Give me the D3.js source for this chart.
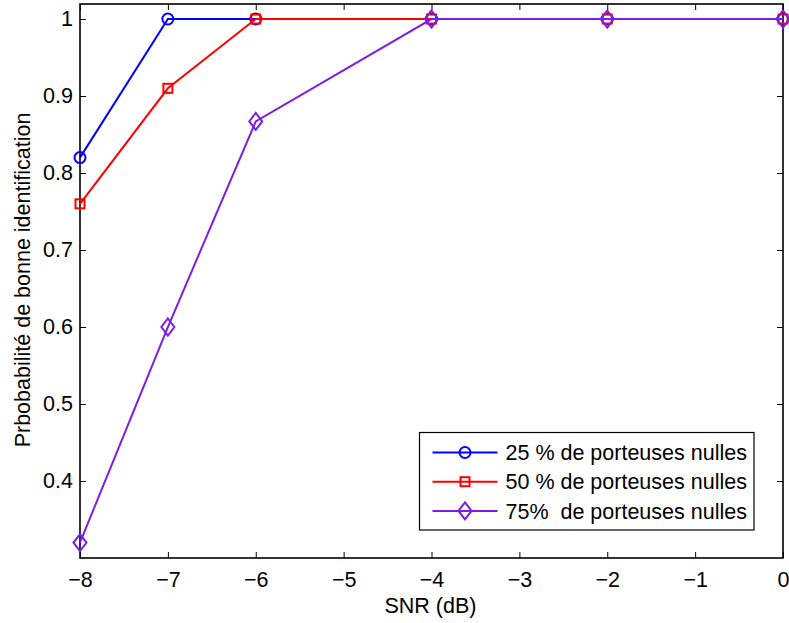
<!DOCTYPE html>
<html>
<head>
<meta charset="utf-8">
<script src="https://cdn.jsdelivr.net/npm/d3@7"></script>
<style>
  html, body { margin: 0; padding: 0; background: #fff; }
  svg { display: block; font-family: "Liberation Sans", Arial, Helvetica, sans-serif; }
</style>
</head>
<body>
<svg id="chart" width="789" height="623"></svg>
<script>
// SNR values (dB) and identification probabilities per null-subcarrier ratio
const snr = [-8, -7, -6, -4, -2, 0];
const p25 = [0.82, 1.0, 1.0, 1.0, 1.0, 1.0];
const p50 = [0.76, 0.91, 1.0, 1.0, 1.0, 1.0];
const p75 = [0.32, 0.60, 0.867, 1.0, 1.0, 1.0];

const xTicks = [-8, -7, -6, -5, -4, -3, -2, -1, 0];
const yTicks = [0.4, 0.5, 0.6, 0.7, 0.8, 0.9, 1];

const seriesNames = ["25 % de porteuses nulles", "50 % de porteuses nulles", "75%  de porteuses nulles"];
const seriesColors = ["#0000ff", "#ff0000", "#7b1fe6"];
const seriesMarkers = ["circle", "square", "diamond"];
const seriesValues = [p25, p50, p75];

const margin = { left: 80, right: 6, top: 4, bottom: 65 };
const W = 789, H = 623;
const plotW = W - margin.left - margin.right;
const plotH = H - margin.top - margin.bottom;

const svg = d3.select("#chart");
const g = svg.append("g").attr("transform", `translate(${margin.left},${margin.top})`);

const x = d3.scaleLinear().domain([-8, 0]).range([0, plotW]);
const y = d3.scaleLinear().domain([0.3, 1.0195]).range([plotH, 0]);

const minus = s => String(s).replace("-", "\u2212");
const tickLen = 6;
const fontSize = 21.5;

// Axes with inward ticks, mirrored on top and right
const xAxisB = d3.axisBottom(x).tickValues(xTicks).tickSizeInner(-tickLen).tickSizeOuter(0)
  .tickPadding(14).tickFormat(d => minus(d));
const xAxisT = d3.axisTop(x).tickValues(xTicks).tickSizeInner(-tickLen).tickSizeOuter(0).tickFormat("");
const yAxisL = d3.axisLeft(y).tickValues(yTicks).tickSizeInner(-tickLen).tickSizeOuter(0)
  .tickPadding(7).tickFormat(d => d === 1 ? "1" : d3.format(".1f")(d));
const yAxisR = d3.axisRight(y).tickValues(yTicks).tickSizeInner(-tickLen).tickSizeOuter(0).tickFormat("");

function styleAxis(sel) {
  sel.selectAll(".domain").remove();
  sel.selectAll(".tick line").attr("stroke", "#000").attr("stroke-width", 1);
  sel.selectAll(".tick text").attr("fill", "#000").style("font-size", fontSize + "px")
    .style("font-family", "'Liberation Sans', Arial, sans-serif");
}

g.append("g").attr("transform", `translate(0,${plotH})`).call(xAxisB).call(styleAxis);
g.append("g").call(xAxisT).call(styleAxis);
g.append("g").call(yAxisL).call(styleAxis);
g.append("g").attr("transform", `translate(${plotW},0)`).call(yAxisR).call(styleAxis);

// Frame
g.append("rect").attr("x", 0).attr("y", 0).attr("width", plotW).attr("height", plotH)
  .attr("fill", "none").attr("stroke", "#000").attr("stroke-width", 1.6);

// Marker shapes
function drawMarker(sel, type, cx, cy, color) {
  if (type === "circle") {
    sel.append("circle").attr("cx", cx).attr("cy", cy).attr("r", 5.5)
      .attr("fill", "none").attr("stroke", color).attr("stroke-width", 2);
  } else if (type === "square") {
    sel.append("rect").attr("x", cx - 4.5).attr("y", cy - 4.5).attr("width", 9).attr("height", 9)
      .attr("fill", "none").attr("stroke", color).attr("stroke-width", 2);
  } else {
    sel.append("path").attr("d", `M${cx},${cy - 8.5}L${cx + 6.5},${cy}L${cx},${cy + 8.5}L${cx - 6.5},${cy}Z`)
      .attr("fill", "none").attr("stroke", color).attr("stroke-width", 2);
  }
}

const line = d3.line().x(d => x(d[0])).y(d => y(d[1]));

seriesValues.forEach((vals, i) => {
  const pts = snr.map((s, j) => [s, vals[j]]);
  const sg = g.append("g");
  sg.append("path").datum(pts).attr("d", line)
    .attr("fill", "none").attr("stroke", seriesColors[i]).attr("stroke-width", 2);
  pts.forEach(p => drawMarker(sg, seriesMarkers[i], x(p[0]), y(p[1]), seriesColors[i]));
});

// Legend
const lg = svg.append("g").attr("transform", "translate(419.5,432.5)");
lg.append("rect").attr("width", 334.5).attr("height", 97.5)
  .attr("fill", "#fff").attr("stroke", "#000").attr("stroke-width", 1.2);
seriesNames.forEach((name, i) => {
  const cy = 20 + i * 29.2;
  lg.append("line").attr("x1", 13).attr("x2", 78).attr("y1", cy).attr("y2", cy)
    .attr("stroke", seriesColors[i]).attr("stroke-width", 2);
  drawMarker(lg, seriesMarkers[i], 45.5, cy, seriesColors[i]);
  lg.append("text").attr("x", 86).attr("y", cy).attr("dy", "0.36em")
    .style("font-size", fontSize + "px").style("white-space", "pre")
    .attr("fill", "#000").text(name);
});

// Axis titles
svg.append("text").attr("x", margin.left + plotW / 2 - 1).attr("y", 613)
  .attr("text-anchor", "middle").style("font-size", fontSize + "px").attr("fill", "#000").text("SNR (dB)");
svg.append("text").attr("transform", "translate(30,280) rotate(-90)")
  .attr("text-anchor", "middle").style("font-size", fontSize + "px").attr("fill", "#000")
  .text("Prbobabilité de bonne identification");
</script>
</body>
</html>
